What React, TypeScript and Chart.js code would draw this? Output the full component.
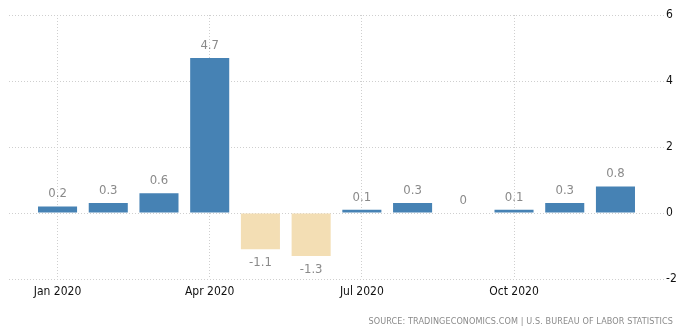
import React, { useEffect, useRef } from "react";
import { Chart, registerables } from "chart.js";

Chart.register(...registerables);

const months = ["Jan 2020", "Feb 2020", "Mar 2020", "Apr 2020", "May 2020", "Jun 2020", "Jul 2020", "Aug 2020", "Sep 2020", "Oct 2020", "Nov 2020", "Dec 2020"];
const values = [0.2, 0.3, 0.6, 4.7, -1.1, -1.3, 0.1, 0.3, 0, 0.1, 0.3, 0.8];
const tickMonthIndexes = [0, 3, 6, 9];
const yTicks = [-2, 0, 2, 4, 6];
const sourceText = "SOURCE: TRADINGECONOMICS.COM | U.S. BUREAU OF LABOR STATISTICS";

const POS = "#4682b4";
const NEG = "#f3deb4";
const FONT = "'DejaVu Sans Condensed', 'DejaVu Sans', sans-serif";

const valueLabels = {
  id: "valueLabels",
  afterDatasetsDraw(chart: any) {
    const ctx = chart.ctx;
    const meta = chart.getDatasetMeta(0);
    ctx.save();
    ctx.font = "13px " + FONT;
    ctx.fillStyle = "#8a8a8a";
    ctx.textAlign = "center";
    meta.data.forEach((bar: any, i: number) => {
      const v = values[i];
      const txt = String(v);
      if (v >= 0) {
        ctx.textBaseline = "bottom";
        ctx.fillText(txt, bar.x, bar.y - 6);
      } else {
        ctx.textBaseline = "top";
        ctx.fillText(txt, bar.x, bar.y + 7);
      }
    });
    ctx.restore();
  },
};

export default function App() {
  const ref = useRef<HTMLCanvasElement>(null);
  useEffect(() => {
    const chart = new Chart(ref.current!, {
      type: "bar",
      data: {
        datasets: [
          {
            data: values.map((v, i) => ({ x: i, y: v })),
            backgroundColor: values.map((v) => (v >= 0 ? POS : NEG)),
            barPercentage: 0.77,
            categoryPercentage: 1,
          },
        ],
      },
      options: {
        animation: false,
        responsive: true,
        maintainAspectRatio: false,
        layout: { padding: { left: 9, right: 0, top: 15, bottom: 0 } },
        plugins: { legend: { display: false }, tooltip: { enabled: false } },
        scales: {
          x: {
            type: "linear",
            offset: false,
            min: -0.957,
            max: 11.957,
            afterBuildTicks: (scale: any) => {
              scale.ticks = tickMonthIndexes.map((v) => ({ value: v }));
            },
            afterFit: (scale: any) => {
              scale.height = 54;
            },
            ticks: {
              callback: (v: any) => months[v as number] ?? "",
              color: "#111",
              font: { size: 12, family: FONT },
              padding: 6,
              maxRotation: 0,
              autoSkip: false,
            },
            grid: { color: "#cfcfcf", drawTicks: false, lineWidth: 1, offset: false },
            border: { display: false, dash: [1, 2] },
          },
          y: {
            position: "right",
            min: -2,
            max: 6,
            afterBuildTicks: (scale: any) => {
              scale.ticks = yTicks.map((v) => ({ value: v }));
            },
            afterFit: (scale: any) => {
              scale.width = 25;
            },
            ticks: {
              color: "#111",
              font: { size: 12, family: FONT },
              padding: 2,
            },
            grid: { color: "#cfcfcf", drawTicks: false, lineWidth: 1 },
            border: { display: false, dash: [1, 2] },
          },
        },
      },
      plugins: [valueLabels],
    } as any);
    return () => chart.destroy();
  }, []);
  return (
    <div style={{ position: "fixed", left: 0, top: 0, width: 689, height: 333, background: "#fff" }}>
      <canvas ref={ref} />
      <div
        style={{
          position: "absolute",
          right: 16,
          top: 315,
          fontFamily: FONT,
          fontSize: 9,
          letterSpacing: "0.1px",
          color: "#8a8a8a",
          whiteSpace: "nowrap",
          lineHeight: "12px",
        }}
      >
        {sourceText}
      </div>
    </div>
  );
}
